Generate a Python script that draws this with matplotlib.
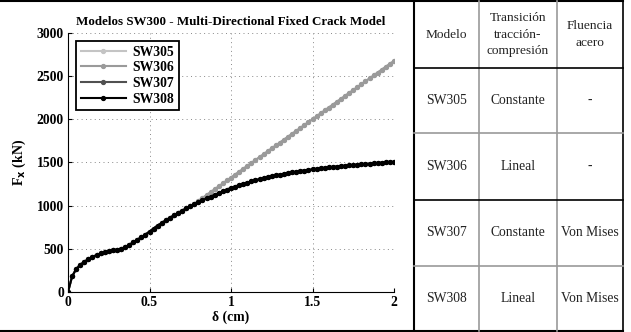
import matplotlib.pyplot as plt
import numpy as np
from matplotlib.lines import Line2D

plt.rcParams['font.family'] = ['Liberation Serif', 'DejaVu Serif']

# desplazamiento (cm), paso de 0.025
delta = np.linspace(0, 2, 81)

# SW305 / SW306 (sin fluencia del acero)
f_sw305 = [0, 180, 265, 315, 350, 380, 405, 428, 447, 462, 474, 483, 490, 500, 520, 545,
           575, 605, 635, 665, 700, 735, 770, 800, 830, 860, 888, 915, 942, 968, 992,
           1022, 1055, 1089, 1123, 1156, 1190, 1224, 1258, 1292, 1326, 1360, 1393, 1427,
           1461, 1495, 1529, 1562, 1596, 1630, 1664, 1697, 1731, 1765, 1799, 1833, 1866,
           1900, 1934, 1968, 2001, 2035, 2069, 2103, 2137, 2170, 2204, 2238, 2272, 2306,
           2339, 2373, 2407, 2441, 2474, 2508, 2542, 2576, 2610, 2643, 2677]
f_sw306 = list(f_sw305)

# SW307 / SW308 (Von Mises)
f_sw307 = [0, 180, 265, 315, 350, 380, 405, 428, 447, 462, 474, 483, 490, 500, 520, 545,
           575, 605, 635, 665, 700, 735, 770, 800, 830, 860, 888, 915, 942, 968, 992,
           1015, 1040, 1063, 1085, 1105, 1125, 1147, 1168, 1187, 1205, 1222, 1238, 1253,
           1268, 1282, 1295, 1308, 1320, 1331, 1342, 1351, 1360, 1369, 1377, 1385, 1393,
           1400, 1407, 1414, 1420, 1426, 1432, 1438, 1443, 1448, 1453, 1458, 1462, 1467,
           1471, 1475, 1479, 1483, 1487, 1491, 1494, 1498, 1501, 1504, 1507]
f_sw308 = list(f_sw307)

series = [("SW305", f_sw305, "#c4c4c4"),
          ("SW306", f_sw306, "#9a9a9a"),
          ("SW307", f_sw307, "#505050"),
          ("SW308", f_sw308, "#000000")]

# tabla
headers = ["Modelo", "Transición\ntracción-\ncompresión", "Fluencia\nacero"]
rows = [["SW305", "Constante", "-"],
        ["SW306", "Lineal", "-"],
        ["SW307", "Constante", "Von Mises"],
        ["SW308", "Lineal", "Von Mises"]]

W, H = 631, 332
fig = plt.figure(figsize=(W / 100, H / 100), dpi=100)
ax = fig.add_axes([68 / W, 1 - 292 / H, (394 - 68) / W, (292 - 33) / H])

for name, f, c in series:
    ax.plot(delta, f, color=c, lw=1.5, marker='o', ms=2.8, mec=c, mfc=c, label=name)

ax.set_xlim(0, 2)
ax.set_ylim(0, 3000)
ax.set_xticks([0, 0.5, 1, 1.5, 2])
ax.set_xticklabels(["0", "0.5", "1", "1.5", "2"])
ax.set_yticks(range(0, 3001, 500))
ax.tick_params(labelsize=9.8, length=3, direction='in', pad=3)
for lab in ax.get_xticklabels() + ax.get_yticklabels():
    lab.set_fontweight('bold')
ax.grid(True, ls=(0, (1, 3.5)), color='#888888', lw=0.7)
for s in ['top', 'right']:
    ax.spines[s].set_visible(False)
ax.spines['left'].set_linewidth(0.8)
ax.spines['bottom'].set_linewidth(0.8)

ax.set_title("Modelos SW300 - Multi-Directional Fixed Crack Model", fontsize=9.4,
             fontweight='bold', pad=6)
ax.set_xlabel("δ (cm)", fontsize=9.8, fontweight='bold', labelpad=1)
ax.set_ylabel("F$_\\mathbf{x}$ (kN)", fontsize=10, fontweight='bold', labelpad=6)

leg = ax.legend(loc='upper left', bbox_to_anchor=(0.025, 0.97),
                prop={'weight': 'bold', 'size': 9.8}, fancybox=False, framealpha=1,
                edgecolor='black', handlelength=3.3, labelspacing=0.2, borderpad=0.35,
                handletextpad=0.5, borderaxespad=0)
leg.get_frame().set_linewidth(1.3)


def fx(px):
    return px / W


def fy(py):
    return 1 - py / H


# marco general
fig.add_artist(Line2D([fx(0), fx(623)], [fy(1), fy(1)], color='black', lw=1.5))
fig.add_artist(Line2D([fx(0), fx(623)], [fy(331), fy(331)], color='black', lw=1.5))
fig.add_artist(Line2D([fx(414), fx(414)], [fy(1), fy(331)], color='black', lw=1.5))
fig.add_artist(Line2D([fx(623), fx(623)], [fy(1), fy(331)], color='black', lw=1.2))
for xc in [479, 557]:
    fig.add_artist(Line2D([fx(xc), fx(xc)], [fy(1), fy(331)], color='#9a9a9a', lw=1.2))
for yr, c in [(68, 'black'), (133, '#9a9a9a'), (200, 'black'), (266, '#9a9a9a')]:
    fig.add_artist(Line2D([fx(414), fx(623)], [fy(yr), fy(yr)], color=c, lw=1.2))

col_x = [446.5, 518, 590]
row_y = [100.5, 166.5, 233, 298.5]
for cx, h in zip(col_x, headers):
    fig.text(fx(cx), fy(34.5), h, ha='center', va='center', fontsize=9.6,
             linespacing=1.45, color='#222222')
for ry, r in zip(row_y, rows):
    for cx, t in zip(col_x, r):
        fig.text(fx(cx), fy(ry), t, ha='center', va='center', fontsize=9.8,
                 color='#222222')

plt.savefig("out.png", dpi=100)
